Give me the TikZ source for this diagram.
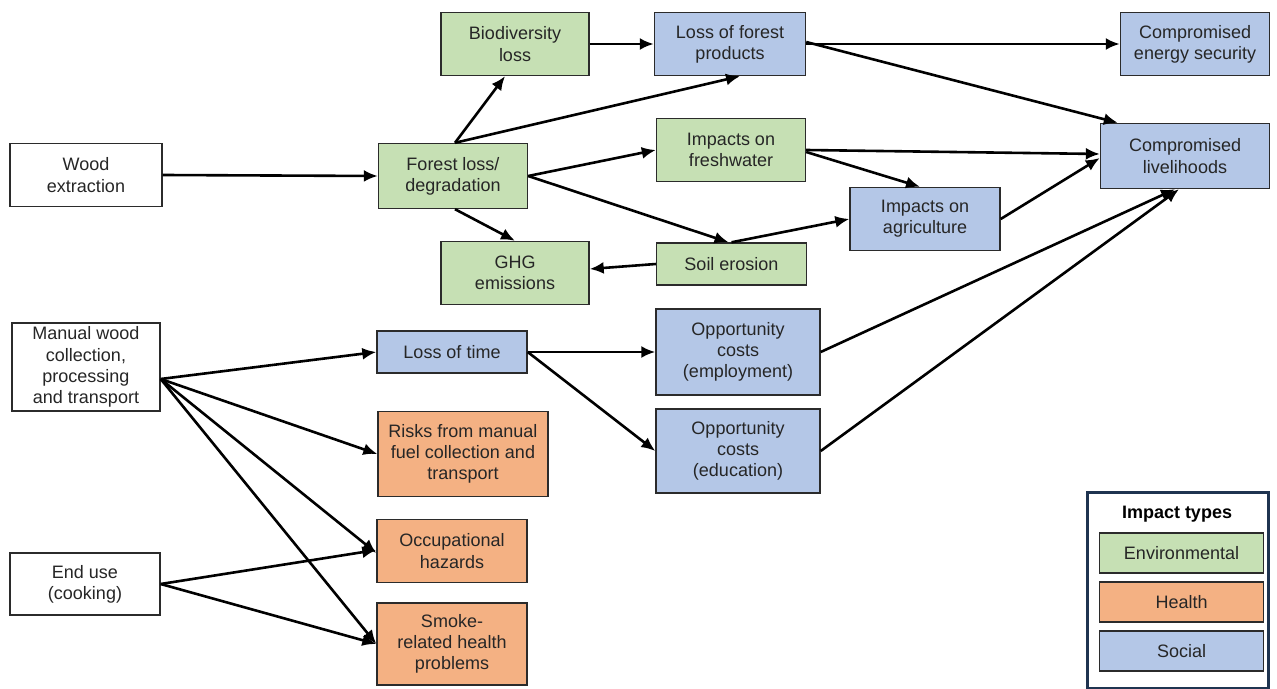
\documentclass[tikz,border=0pt]{standalone}
\usepackage{fontspec}
\setmainfont{Liberation Sans}
\usetikzlibrary{arrows.meta,calc}
\definecolor{envc}{HTML}{C6E0B4}
\definecolor{hlthc}{HTML}{F4B183}
\definecolor{socc}{HTML}{B4C7E7}
\definecolor{bordc}{HTML}{2B2B2B}
\definecolor{navy}{HTML}{1F3450}
\begin{document}
\begin{tikzpicture}[x=0.5pt,y=-0.5pt,
  every node/.style={font=\fontsize{9}{10.6}\selectfont, text=black!85},
  box/.style={draw=bordc, line width=0.7pt, align=center, inner sep=2pt},
  srcbox/.style={box, fill=white},
  envbox/.style={box, fill=envc},
  hlthbox/.style={box, fill=hlthc},
  socbox/.style={box, fill=socc},
  arr/.style={line width=1.3pt, -{Latex[length=7pt,width=6pt]}}
]
\useasboundingbox (0,0) rectangle (1277,689);
% nodes (centre, width, height in px)
\node[srcbox, minimum width=76pt, minimum height=31.5pt] (we) at (86,175) {Wood\\extraction};
\node[envbox, minimum width=74.5pt, minimum height=32.5pt] (fl) at (453,176) {Forest loss/\\degradation};
\node[envbox, minimum width=74pt, minimum height=31.5pt] (bio) at (515,44) {Biodiversity\\loss};
\node[socbox, minimum width=75.5pt, minimum height=31.5pt] (lfp) at (730,44) {Loss of forest\\products};
\node[socbox, minimum width=74.5pt, minimum height=31.5pt] (ces) at (1195,44) {Compromised\\energy security};
\node[envbox, minimum width=74.5pt, minimum height=31.5pt] (ifw) at (731,150) {Impacts on\\freshwater};
\node[socbox, minimum width=84.5pt, minimum height=32.5pt] (cl) at (1185,156) {Compromised\\livelihoods};
\node[socbox, minimum width=75pt, minimum height=31.5pt] (ia) at (925,219) {Impacts on\\agriculture};
\node[envbox, minimum width=74pt, minimum height=31.5pt] (ghg) at (515,273) {GHG\\emissions};
\node[envbox, minimum width=75pt, minimum height=21pt] (se) at (731.5,264) {Soil erosion};
\node[srcbox, minimum width=74pt, minimum height=42pt] (mw) at (86,367) {Manual wood\\collection,\\processing\\and transport};
\node[socbox, minimum width=75pt, minimum height=21pt] (lt) at (452,352) {Loss of time};
\node[socbox, minimum width=82pt, minimum height=43pt] (oce) at (738,352) {Opportunity\\costs\\(employment)};
\node[hlthbox, minimum width=85pt, minimum height=42.5pt] (rmf) at (463,454) {Risks from manual\\fuel collection and\\transport};
\node[socbox, minimum width=82pt, minimum height=42pt] (ocd) at (738,451) {Opportunity\\costs\\(education)};
\node[hlthbox, minimum width=75pt, minimum height=31.5pt] (oh) at (452,551) {Occupational\\hazards};
\node[srcbox, minimum width=75pt, minimum height=31pt] (eu) at (85,584) {End use\\(cooking)};
\node[hlthbox, minimum width=75pt, minimum height=41pt] (smk) at (452,644) {Smoke-\\related health\\problems};
% legend
\node[draw=navy, line width=1.5pt, fill=white, minimum width=90.5pt, minimum height=98pt, inner sep=0pt] (leg) at (1177.5,590) {};
\node[font=\fontsize{9}{10.6}\selectfont\bfseries, text=black] (legt) at (1177,514) {Impact types};
\node[envbox, minimum width=82pt, minimum height=20pt] (lenv) at (1181.5,553) {Environmental};
\node[hlthbox, minimum width=82pt, minimum height=20pt] (lhl) at (1181.5,602) {Health};
\node[socbox, minimum width=82pt, minimum height=20pt] (lsoc) at (1181.5,651) {Social};
% connectors
\coordinate (mwo) at ($(mw.east)+(0,12)$);
\draw[arr] (we.east) -- (fl.west);
\draw[arr] ($(fl.north)+(2,0)$) -- ($(bio.south)+(-10,0)$);
\draw[arr] ($(fl.north)+(2,0)$) -- ($(lfp.south)+(10,0)$);
\draw[arr] (bio.east) -- (lfp.west);
\draw[arr] (lfp.east) -- (ces.west);
\draw[arr] ($(lfp.east)+(0,-2)$) -- ($(cl.north west)+(18,0)$);
\draw[arr] (fl.east) -- ($(se.north)+(-3,0)$);
\draw[arr] (fl.east) -- (ifw.west);
\draw[arr] ($(fl.south)+(2,0)$) -- (ghg.north);
\draw[arr] (se.west) -- ($(ghg.east)+(0,-4)$);
\draw[arr] (se.north) -- (ia.west);
\draw[arr] (ifw.east) -- ($(cl.west)+(0,-2)$);
\draw[arr] ($(ifw.east)+(0,2)$) -- ($(ia.north)+(-5,0)$);
\draw[arr] (ia.east) -- ($(cl.west)+(0,2)$);
\draw[arr] (oce.east) -- ($(cl.south)+(-10,0)$);
\draw[arr] (ocd.east) -- ($(cl.south)+(-6,0)$);
\draw[arr] (mwo) -- (lt.west);
\draw[arr] (mwo) -- (rmf.west);
\draw[arr] (mwo) -- ($(oh.west)+(0,2)$);
\draw[arr] (mwo) -- (smk.west);
\draw[arr] (eu.east) -- ($(oh.west)+(0,-1)$);
\draw[arr] (eu.east) -- (smk.west);
\draw[arr] (lt.east) -- (oce.west);
\draw[arr] (lt.east) -- (ocd.west);
\end{tikzpicture}
\end{document}
